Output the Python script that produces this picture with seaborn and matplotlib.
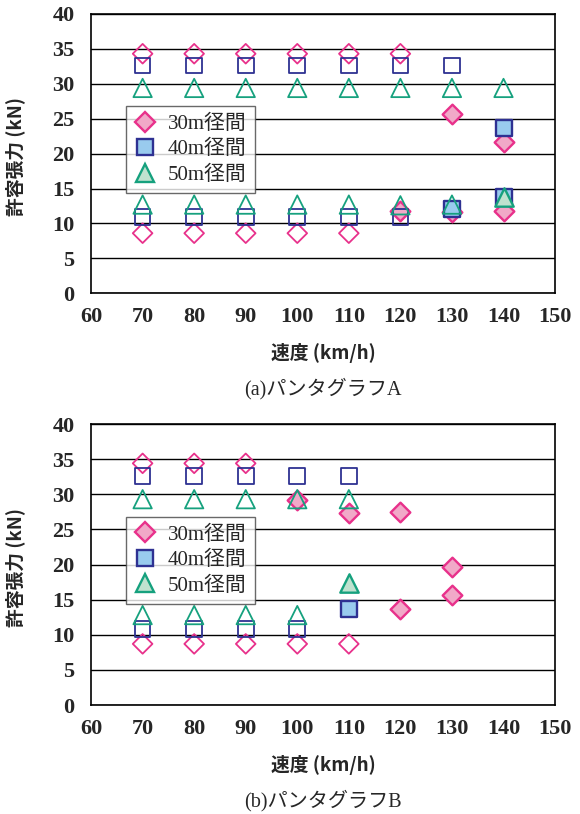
import numpy as np
import pandas as pd
import matplotlib
matplotlib.use("Agg")
import matplotlib.pyplot as plt
from matplotlib.lines import Line2D
import seaborn as sns

# ─── Data ─────────────────────────────────────────────────────────────────────
SPANS = ["30m径間", "40m径間", "50m径間"]

# panel (a) パンタグラフA
a_30_speed = [70, 80, 90, 100, 110, 120, 130, 140, 70, 80, 90, 100, 110, 120, 130, 140]
a_30_value = [34.3, 34.3, 34.3, 34.3, 34.3, 34.3, 25.6, 21.6,
              8.6, 8.6, 8.6, 8.6, 8.6, 11.8, 11.6, 11.8]
a_30_fill  = [0, 0, 0, 0, 0, 0, 1, 1, 0, 0, 0, 0, 0, 1, 1, 1]

a_40_speed = [70, 80, 90, 100, 110, 120, 130, 140, 70, 80, 90, 100, 110, 120, 130, 140]
a_40_value = [32.6, 32.6, 32.6, 32.6, 32.6, 32.6, 32.6, 23.6,
              10.9, 10.9, 10.9, 10.9, 10.9, 10.9, 12.0, 13.8]
a_40_fill  = [0, 0, 0, 0, 0, 0, 0, 1, 0, 0, 0, 0, 0, 0, 1, 1]

a_50_speed = [70, 80, 90, 100, 110, 120, 130, 140, 70, 80, 90, 100, 110, 120, 130, 140]
a_50_value = [29.4, 29.4, 29.4, 29.4, 29.4, 29.4, 29.4, 29.4,
              12.7, 12.7, 12.7, 12.7, 12.7, 12.6, 12.7, 13.8]
a_50_fill  = [0, 0, 0, 0, 0, 0, 0, 0, 0, 0, 0, 0, 0, 0, 0, 1]

# panel (b) パンタグラフB
b_30_speed = [70, 80, 90, 100, 110, 120, 130, 70, 80, 90, 100, 110, 120, 130]
b_30_value = [34.4, 34.4, 34.4, 29.2, 27.4, 27.5, 19.6,
              8.7, 8.7, 8.7, 8.7, 8.7, 13.6, 15.7]
b_30_fill  = [0, 0, 0, 1, 1, 1, 1, 0, 0, 0, 0, 0, 1, 1]

b_40_speed = [70, 80, 90, 100, 110, 70, 80, 90, 100, 110]
b_40_value = [32.6, 32.6, 32.6, 32.6, 32.6, 10.8, 10.8, 10.8, 10.8, 13.7]
b_40_fill  = [0, 0, 0, 0, 0, 0, 0, 0, 0, 1]

b_50_speed = [70, 80, 90, 100, 110, 70, 80, 90, 100, 110]
b_50_value = [29.3, 29.3, 29.3, 29.3, 29.3, 12.8, 12.8, 12.8, 12.8, 17.4]
b_50_fill  = [0, 0, 0, 0, 0, 0, 0, 0, 0, 1]

CAPTIONS = ["(a)パンタグラフA", "(b)パンタグラフB"]
X_TICKS = [60, 70, 80, 90, 100, 110, 120, 130, 140, 150]
Y_TICKS = [0, 5, 10, 15, 20, 25, 30, 35, 40]

# ─── Styles ──────────────────────────────────────────────────────────────────
_STYLE = {
    "30m径間": dict(marker="D", s=100, edge="#e8318b", fill="#f1a9c8"),
    "40m径間": dict(marker="s", s=128, edge="#2e3192", fill="#99cbee"),
    "50m径間": dict(marker="^", s=175, edge="#16a17e", fill="#bfe2cf"),
}
SERIF_JP = ["Liberation Serif", "Noto Sans CJK JP"]
GOTHIC = ["Noto Sans CJK JP", "DejaVu Sans"]


def _frame(speeds, values, fills):
    rows = []
    for span, sp, vl, fl in zip(SPANS, speeds, values, fills):
        rows.append(pd.DataFrame({"speed": sp, "value": vl,
                                  "filled": fl, "span": span}))
    return pd.concat(rows, ignore_index=True)


df_a = _frame([a_30_speed, a_40_speed, a_50_speed],
              [a_30_value, a_40_value, a_50_value],
              [a_30_fill, a_40_fill, a_50_fill])
df_b = _frame([b_30_speed, b_40_speed, b_50_speed],
              [b_30_value, b_40_value, b_50_value],
              [b_30_fill, b_40_fill, b_50_fill])

sns.set_style("white")
plt.rcParams["font.family"] = SERIF_JP

fig = plt.figure(figsize=(5.8, 8.14), dpi=100)
axes = [fig.add_axes([0.157, 0.6397, 0.80, 0.3432]),
        fig.add_axes([0.157, 0.1339, 0.80, 0.3452])]


def _draw(ax, df, caption):
    for span in SPANS:
        st = _STYLE[span]
        for filled in (0, 1):
            sub = df[(df["span"] == span) & (df["filled"] == filled)]
            if sub.empty:
                continue
            sns.scatterplot(data=sub, x="speed", y="value", ax=ax,
                            marker=st["marker"], s=st["s"],
                            color=st["edge"],
                            facecolor=st["fill"] if filled else "none",
                            edgecolor=st["edge"],
                            linewidth=1.7 if filled else 1.3,
                            legend=False, zorder=3)

    ax.set_xlim(60, 150)
    ax.set_ylim(0, 40)
    ax.set_xticks(X_TICKS)
    ax.set_yticks(Y_TICKS)
    ax.tick_params(axis="x", direction="in", length=5.5, width=1,
                   color="black", pad=10, labelsize=16)
    ax.tick_params(axis="y", length=0, pad=12, labelsize=16)
    for lab in ax.get_xticklabels() + ax.get_yticklabels():
        lab.set_fontweight("bold")
    ax.yaxis.grid(True, color="black", linewidth=1)
    ax.set_axisbelow(True)
    for sp in ax.spines.values():
        sp.set_color("black")
        sp.set_linewidth(1.2)

    ax.set_ylabel("許容張力 (kN)", family=GOTHIC, fontsize=13.5,
                  fontweight="bold")
    ax.yaxis.set_label_coords(-0.142, 0.49)
    ax.set_xlabel("速度 (km/h)", family=GOTHIC, fontsize=13.5,
                  fontweight="bold", va="center")
    ax.xaxis.set_label_coords(0.5, -0.215)
    ax.text(0.5, -0.342, caption, transform=ax.transAxes, ha="center",
            va="center", fontsize=14.5)

    handles = [Line2D([], [], linestyle="none", marker=_STYLE[s]["marker"],
                      markersize=np.sqrt(_STYLE[s]["s"]),
                      markerfacecolor=_STYLE[s]["fill"],
                      markeredgecolor=_STYLE[s]["edge"],
                      markeredgewidth=1.7) for s in SPANS]
    leg = ax.legend(handles, SPANS, loc="upper left",
                    bbox_to_anchor=(0.0754, 0.67), borderaxespad=0,
                    fontsize=15, frameon=True, fancybox=False,
                    handlelength=1.0, handletextpad=0.6,
                    labelspacing=0.28, borderpad=0.4)
    leg.get_frame().set_edgecolor("#444444")
    leg.get_frame().set_linewidth(1.0)
    leg.set_zorder(5)


_draw(axes[0], df_a, CAPTIONS[0])
_draw(axes[1], df_b, CAPTIONS[1])

fig.savefig("out.png", dpi=100)
